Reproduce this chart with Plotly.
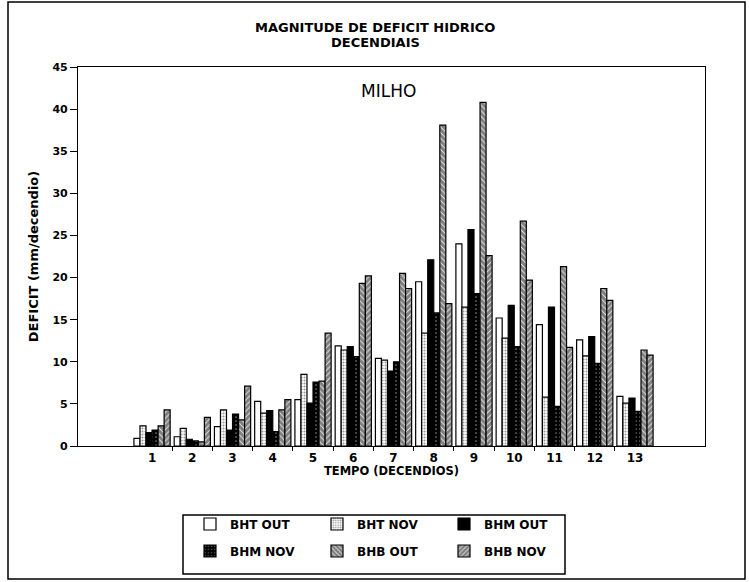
import plotly.graph_objects as go

# Decendial periods
periods = list(range(1, 14))
period_labels = [str(p) for p in periods]

# Water-deficit magnitude (mm/decendio) per scenario
bht_out = [0.9, 1.1, 2.3, 5.3, 5.5, 11.9, 10.4, 19.5, 24.0, 15.2, 14.4, 12.6, 5.9]
bht_nov = [2.4, 2.1, 4.3, 3.9, 8.5, 11.4, 10.2, 13.4, 16.5, 12.8, 5.8, 10.7, 5.1]
bhm_out = [1.6, 0.8, 1.9, 4.2, 5.1, 11.8, 8.9, 22.1, 25.7, 16.7, 16.5, 13.0, 5.7]
bhm_nov = [1.9, 0.6, 3.8, 1.7, 7.6, 10.6, 10.0, 15.8, 18.1, 11.8, 4.7, 9.8, 4.1]
bhb_out = [2.4, 0.5, 3.1, 4.3, 7.7, 19.3, 20.5, 38.1, 40.8, 26.7, 21.3, 18.7, 11.4]
bhb_nov = [4.3, 3.4, 7.1, 5.5, 13.4, 20.2, 18.7, 16.9, 22.6, 19.7, 11.7, 17.3, 10.8]

series = [
    ("BHT OUT", bht_out, "white", dict(shape=""), "legend"),
    ("BHT NOV", bht_nov, "white", dict(shape=".", fgcolor="#333", size=3, solidity=0.4), "legend"),
    ("BHM OUT", bhm_out, "black", dict(shape=""), "legend"),
    ("BHM NOV", bhm_nov, "black", dict(shape=".", fgcolor="white", size=4, solidity=0.15), "legend2"),
    ("BHB OUT", bhb_out, "white", dict(shape="\\", fgcolor="black", size=4, solidity=0.8), "legend2"),
    ("BHB NOV", bhb_nov, "white", dict(shape="/", fgcolor="black", size=4, solidity=0.8), "legend2"),
]

SANS = "DejaVu Sans, Verdana, sans-serif"

fig = go.Figure()
for name, vals, color, pattern, leg in series:
    fig.add_trace(go.Bar(
        x=periods, y=vals, name=name, legend=leg,
        marker=dict(color=color, pattern=pattern, line=dict(color="black", width=1.2)),
    ))

W, H = 749, 582
L, R, T, B = 78, 44, 67, 136
pw, ph = W - L - R, H - T - B

def px_x(x):
    return (x - L) / pw

def px_y(y):
    return (H - B - y) / ph

legend_style = dict(
    orientation="h", xanchor="left", yanchor="middle",
    borderwidth=0, bgcolor="rgba(0,0,0,0)", entrywidth=82, itemwidth=30,
    font=dict(family=SANS, size=12, color="black", weight="bold"),
)

fig.update_layout(
    width=W, height=H,
    margin=dict(l=L, r=R, t=T, b=B),
    paper_bgcolor="white", plot_bgcolor="white",
    barmode="group", bargap=0.1, bargroupgap=0.0,
    font=dict(family=SANS, color="black", size=11),
    showlegend=True,
    legend=dict(x=px_x(190), y=px_y(524), **legend_style),
    legend2=dict(x=px_x(190), y=px_y(551), **legend_style),
    xaxis=dict(
        range=[-0.84, 14.74], tickvals=periods, ticktext=period_labels,
        ticks="", showgrid=False, zeroline=False,
        showline=True, linecolor="black", linewidth=1.2, mirror=True,
        tickfont=dict(family=SANS, size=12, color="black", weight="bold"),
        minor=dict(tickvals=[p + 0.5 for p in periods[:-1]], ticks="outside",
                   ticklen=4, tickcolor="black", showgrid=False),
        title=dict(text="TEMPO (DECENDIOS)", font=dict(family=SANS, size=11.5, color="black", weight="bold"),
                   standoff=3),
    ),
    yaxis=dict(
        range=[0, 45], tickvals=list(range(0, 46, 5)),
        ticks="outside", ticklen=7, tickcolor="black", showgrid=False, zeroline=False,
        showline=True, linecolor="black", linewidth=1.2, mirror=True,
        tickfont=dict(family=SANS, size=11, color="black", weight="bold"),
        title=dict(text="DEFICIT (mm/decendio)", font=dict(family=SANS, size=13, color="black", weight="bold"),
                   standoff=10),
    ),
    annotations=[
        dict(text="MAGNITUDE DE DEFICIT HIDRICO", x=px_x(375), y=px_y(27),
             xref="paper", yref="paper", showarrow=False, xanchor="center", yanchor="middle",
             font=dict(family=SANS, size=13, color="black", weight="bold")),
        dict(text="DECENDIAIS", x=px_x(375), y=px_y(42),
             xref="paper", yref="paper", showarrow=False, xanchor="center", yanchor="middle",
             font=dict(family=SANS, size=13, color="black", weight="bold")),
        dict(text="MILHO", x=px_x(388), y=px_y(91), xref="paper", yref="paper",
             showarrow=False, xanchor="center", yanchor="middle",
             font=dict(family=SANS, size=17, color="black")),
    ],
    shapes=[
        dict(type="rect", xref="paper", yref="paper",
             x0=px_x(8), x1=px_x(745), y0=px_y(579), y1=px_y(2),
             line=dict(color="black", width=1.5)),
        dict(type="rect", xref="paper", yref="paper",
             x0=px_x(183), x1=px_x(565), y0=px_y(574), y1=px_y(515),
             line=dict(color="black", width=1.5)),
    ],
)

fig.write_html("out.html")
